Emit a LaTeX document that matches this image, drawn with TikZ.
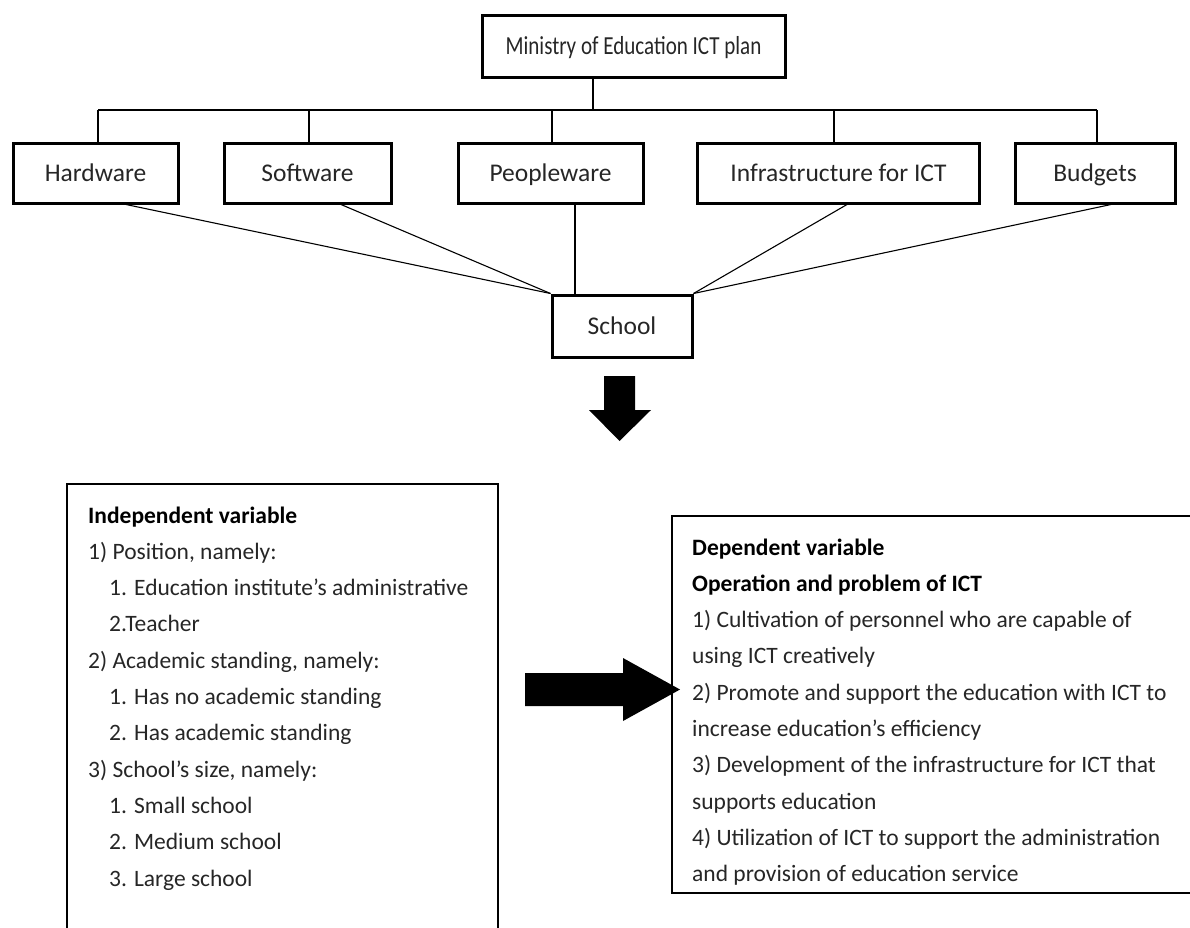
\documentclass[tikz,border=0pt]{standalone}
\usepackage{fontspec}
\setmainfont{Carlito}
\newfontfamily\narrowfont[FakeStretch=0.81]{Carlito}
\begin{document}
\begin{tikzpicture}[x=1pt,y=-1pt,
  hbox/.style={draw=black,line width=3pt,rectangle,inner sep=0pt,font=\fontsize{25.5}{28}\selectfont,text=black!85,text height=16.4pt,text depth=0pt},
  bar/.style={line width=2.6pt},
  link/.style={line width=1.1pt},
  frame/.style={line width=2pt},
  ltxt/.style={anchor=base west,inner sep=0pt,font=\fontsize{23.5}{26}\selectfont,text=black!85},
  btxt/.style={ltxt,font=\bfseries\fontsize{23.5}{26}\selectfont,text=black}]
\useasboundingbox (0,0) rectangle (1190,927);
% hierarchy
\node[hbox,minimum width=303pt,minimum height=62pt,font=\narrowfont\fontsize{26}{28}\selectfont,text height=16.7pt] (top) at (633.5,46) {Ministry of Education ICT plan};
\node[hbox,minimum width=165pt,minimum height=60pt] (hw) at (95.5,173) {Hardware};
\node[hbox,minimum width=167pt,minimum height=60pt] (sw) at (307.5,173) {Software};
\node[hbox,minimum width=185pt,minimum height=60pt] (pw) at (550.5,173) {Peopleware};
\node[hbox,minimum width=282pt,minimum height=60pt] (inf) at (838.5,173) {Infrastructure for ICT};
\node[hbox,minimum width=160pt,minimum height=60pt] (bud) at (1095,173) {Budgets};
\node[hbox,minimum width=140pt,minimum height=62pt] (school) at (622,326) {School};
\coordinate (tj) at (593,110);
\coordinate (b1) at (98,110);
\coordinate (b2) at (309,110);
\coordinate (b3) at (552,110);
\coordinate (b4) at (834,110);
\coordinate (b5) at (1097,110);
\draw[bar] (top.south -| tj) -- (tj);
\draw[bar] (b1) -- (b5);
\draw[bar] (b1) -- (hw.north -| b1);
\draw[bar] (b2) -- (sw.north -| b2);
\draw[bar] (b3) -- (pw.north -| b3);
\draw[bar] (b4) -- (inf.north -| b4);
\draw[bar] (b5) -- (bud.north -| b5);
\draw[link] ([xshift=30.5pt]hw.south) -- (school.north west);
\draw[link] ([xshift=33.5pt]sw.south) -- (school.north west);
\draw[link] ([xshift=24.5pt]pw.south) -- ([xshift=-47pt]school.north);
\draw[link] ([xshift=8.5pt]inf.south) -- (school.north east);
\draw[link] ([xshift=16pt]bud.south) -- (school.north east);
% arrows
\fill (604,376) -- (635,376) -- (635,410) -- (651,410) -- (619.5,441) -- (589,410) -- (604,410) -- cycle;
\fill (525,673) -- (623,673) -- (623,658) -- (680,689.5) -- (623,721) -- (623,706) -- (525,706) -- cycle;
% left frame
\draw[frame] (67,935) -- (67,484) -- (498,484) -- (498,935);
\node[btxt] (l1) at (88,523) {Independent variable};
\node[ltxt] (l2) at (88,559.3) {1) Position, namely:};
\node[ltxt] (l3) at (109,595.6) {1. Education institute’s administrative};
\node[ltxt] (l4) at (109,631.9) {2.Teacher};
\node[ltxt] (l5) at (88,668.2) {2) Academic standing, namely:};
\node[ltxt] (l6) at (109,704.5) {1. Has no academic standing};
\node[ltxt] (l7) at (109,740.8) {2. Has academic standing};
\node[ltxt] (l8) at (88,777.1) {3) School’s size, namely:};
\node[ltxt] (l9) at (109,813.4) {1. Small school};
\node[ltxt] (l10) at (109,849.7) {2. Medium school};
\node[ltxt] (l11) at (109,886) {3. Large school};
% right frame
\draw[frame] (1195,516) -- (672,516) -- (672,893) -- (1195,893);
\node[btxt] (r1) at (692,555) {Dependent variable};
\node[btxt] (r2) at (692,591.3) {Operation and problem of ICT};
\node[ltxt] (r3) at (692,627.6) {1) Cultivation of personnel who are capable of};
\node[ltxt] (r4) at (692,663.9) {using ICT creatively};
\node[ltxt] (r5) at (692,700.2) {2) Promote and support the education with ICT to};
\node[ltxt] (r6) at (692,736.5) {increase education’s efficiency};
\node[ltxt] (r7) at (692,772.8) {3) Development of the infrastructure for ICT that};
\node[ltxt] (r8) at (692,809.1) {supports education};
\node[ltxt] (r9) at (692,845.4) {4) Utilization of ICT to support the administration};
\node[ltxt] (r10) at (692,881.7) {and provision of education service};
\end{tikzpicture}
\end{document}
